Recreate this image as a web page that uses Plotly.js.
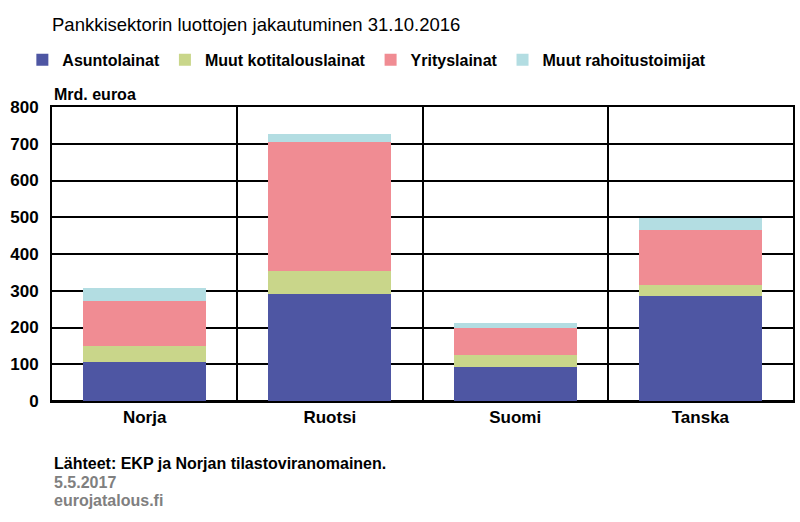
<!DOCTYPE html>
<html>
<head>
<meta charset="utf-8">
<script src="https://cdn.plot.ly/plotly-3.0.1.min.js"></script>
<style>html,body{margin:0;padding:0;background:#fff}#chart{width:800px;height:522px}</style>
</head>
<body>
<div id="chart"></div>
<script>
const categories = ["Norja", "Ruotsi", "Suomi", "Tanska"];
const asuntolainat = [107, 290, 93, 287];
const muutKotitalouslainat = [43, 63, 31, 30];
const yrityslainat = [122, 353, 76, 148];
const muutRahoitustoimijat = [35, 20, 12, 34];
const seriesNames = ["Asuntolainat", "Muut kotitalouslainat", "Yrityslainat", "Muut rahoitustoimijat"];
const seriesColors = ["#4E56A3", "#C9D68A", "#F08C93", "#B3DDE2"];
const yTicks = [0, 100, 200, 300, 400, 500, 600, 700, 800];

const FONT = "'Liberation Sans', Arial, sans-serif";

const seriesValues = [asuntolainat, muutKotitalouslainat, yrityslainat, muutRahoitustoimijat];
const traces = seriesValues.map((vals, i) => ({
  type: "bar",
  name: seriesNames[i],
  x: categories,
  y: vals,
  marker: {color: seriesColors[i], line: {width: 0}},
  hoverinfo: "x+y+name"
}));

const layout = {
  width: 800, height: 522,
  paper_bgcolor: "#fff", plot_bgcolor: "#fff",
  margin: {l: 52, r: 7, t: 107, b: 121},
  barmode: "stack",
  bargap: 0.335,
  font: {family: FONT, size: 17, color: "#000", weight: "bold"},
  title: {
    text: "Pankkisektorin luottojen jakautuminen 31.10.2016",
    font: {family: FONT, size: 18.5, color: "#000", weight: "normal"},
    x: 0.065, xanchor: "left", xref: "container",
    y: 0.953, yanchor: "middle", yref: "container"
  },
  showlegend: true,
  legend: {
    orientation: "h",
    x: -0.04, xanchor: "left",
    y: 1.16, yanchor: "middle",
    traceorder: "normal",
    itemwidth: 30,
    font: {family: FONT, size: 16, color: "#000", weight: "bold"},
    bgcolor: "rgba(0,0,0,0)"
  },
  xaxis: {
    type: "category",
    tickson: "boundaries",
    showgrid: true, gridcolor: "#000", gridwidth: 2,
    showline: true, linecolor: "#000", linewidth: 2, mirror: true,
    ticks: "",
    tickfont: {family: FONT, size: 17, color: "#000", weight: "bold"},
    fixedrange: true
  },
  yaxis: {
    range: [0, 800],
    tickvals: yTicks,
    ticktext: yTicks.map(String),
    showgrid: true, gridcolor: "#000", gridwidth: 2,
    zeroline: true, zerolinecolor: "#000", zerolinewidth: 2,
    showline: true, linecolor: "#000", linewidth: 2, mirror: true,
    ticks: "",
    ticklabelstandoff: 8,
    tickfont: {family: FONT, size: 17, color: "#000", weight: "bold"},
    fixedrange: true
  },
  annotations: [
    {text: "Mrd. euroa", xref: "paper", yref: "paper", x: 0, y: 1.044, xanchor: "left", yanchor: "middle", showarrow: false,
     font: {family: FONT, size: 16, color: "#000", weight: "bold"}},
    {text: "Lähteet: EKP ja Norjan tilastoviranomainen.", xref: "paper", yref: "paper", x: 0, y: -0.211, xanchor: "left", yanchor: "middle", showarrow: false,
     font: {family: FONT, size: 16, color: "#000", weight: "bold"}},
    {text: "5.5.2017", xref: "paper", yref: "paper", x: 0, y: -0.276, xanchor: "left", yanchor: "middle", showarrow: false,
     font: {family: FONT, size: 16, color: "#808080", weight: "bold"}},
    {text: "eurojatalous.fi", xref: "paper", yref: "paper", x: 0, y: -0.338, xanchor: "left", yanchor: "middle", showarrow: false,
     font: {family: FONT, size: 16, color: "#808080", weight: "bold"}}
  ]
};

Plotly.newPlot("chart", traces, layout, {displayModeBar: false, staticPlot: true});
</script>
</body>
</html>
